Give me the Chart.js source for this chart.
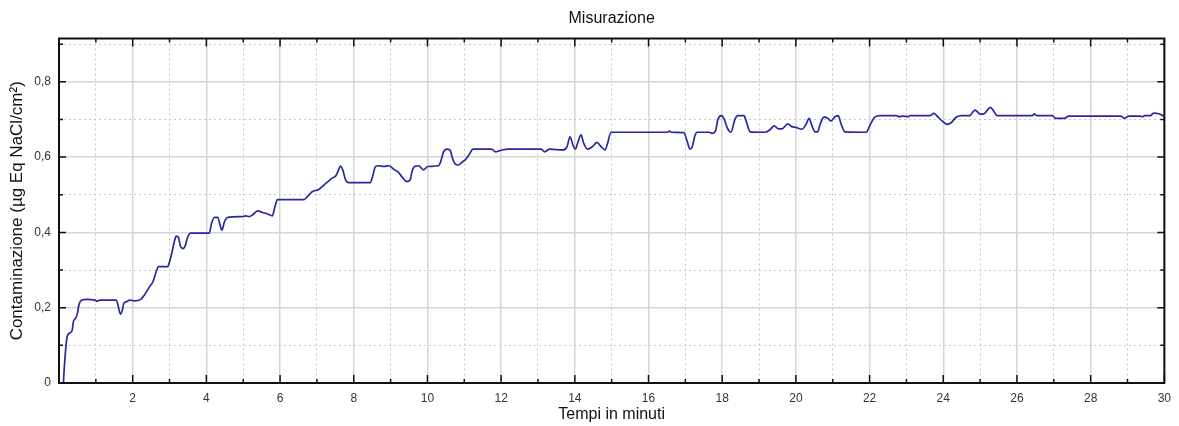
<!DOCTYPE html>
<html>
<head>
<meta charset="utf-8">
<script src="https://cdn.jsdelivr.net/npm/chart.js@4.4.0/dist/chart.umd.min.js"></script>
<style>
  html, body { margin: 0; padding: 0; background: #fff; }
</style>
</head>
<body>
<canvas id="chart" width="1179" height="426"></canvas>
<script>
// time in minutes
const times = [
  0.12, 0.14, 0.18, 0.22, 0.30, 0.36, 0.39, 0.45, 0.50, 0.54, 0.61, 0.75, 0.97, 1.02, 1.11,
  1.56, 1.60, 1.67, 1.72, 1.76, 1.83, 1.92, 2.05, 2.22, 2.32, 2.46, 2.55, 2.64, 2.70, 2.95,
  3.00, 3.06, 3.12, 3.18, 3.24, 3.30, 3.37, 3.43, 3.49, 3.57, 4.08, 4.14, 4.22, 4.31, 4.37,
  4.42, 4.49, 4.58, 4.98, 5.07, 5.16, 5.25, 5.39, 5.52, 5.66, 5.79, 5.86, 5.93, 6.65, 6.74,
  6.87, 7.05, 7.24, 7.41, 7.51, 7.58, 7.64, 7.70, 7.78, 7.86, 8.45, 8.51, 8.59, 8.68, 8.81,
  8.95, 9.08, 9.22, 9.32, 9.44, 9.53, 9.58, 9.65, 9.76, 9.89, 10.01, 10.30, 10.36, 10.43, 10.52,
  10.61, 10.68, 10.75, 10.84, 10.93, 11.02, 11.11, 11.24, 11.74, 11.85, 11.96, 12.19, 13.09, 13.18, 13.32,
  13.68, 13.79, 13.87, 13.95, 14.01, 14.08, 14.17, 14.24, 14.35, 14.49, 14.60, 14.71, 14.82, 14.89, 14.98,
  16.51, 16.57, 16.62, 16.96, 17.04, 17.13, 17.19, 17.25, 17.32, 17.64, 17.73, 17.82, 17.88, 17.97, 18.05,
  18.14, 18.24, 18.34, 18.43, 18.59, 18.66, 18.76, 19.17, 19.29, 19.41, 19.53, 19.62, 19.78, 19.89, 20.00,
  20.16, 20.27, 20.36, 20.43, 20.52, 20.59, 20.66, 20.77, 20.86, 20.95, 21.06, 21.15, 21.22, 21.33, 21.92,
  21.98, 22.05, 22.14, 22.28, 22.73, 22.80, 22.90, 23.05, 23.10, 23.63, 23.75, 23.86, 23.97, 24.11, 24.22,
  24.35, 24.49, 24.71, 24.86, 25.01, 25.12, 25.28, 25.37, 25.46, 26.42, 26.47, 26.54, 26.96, 27.05, 27.28,
  27.41, 28.81, 28.92, 29.04, 29.35, 29.41, 29.46, 29.62, 29.71, 29.85, 29.96, 30.00
];
// contamination (µg Eq NaCl/cm²)
const values = [
  0.000, 0.035, 0.088, 0.123, 0.133, 0.141, 0.163, 0.172, 0.185, 0.207, 0.220, 0.222, 0.220, 0.217, 0.220,
  0.220, 0.207, 0.183, 0.194, 0.212, 0.216, 0.220, 0.218, 0.222, 0.234, 0.256, 0.269, 0.296, 0.309, 0.309,
  0.322, 0.344, 0.371, 0.390, 0.387, 0.362, 0.357, 0.366, 0.387, 0.398, 0.398, 0.424, 0.440, 0.440, 0.420,
  0.406, 0.428, 0.440, 0.442, 0.444, 0.442, 0.446, 0.457, 0.453, 0.449, 0.444, 0.468, 0.487, 0.487, 0.495,
  0.508, 0.514, 0.530, 0.544, 0.550, 0.564, 0.576, 0.566, 0.539, 0.532, 0.532, 0.548, 0.575, 0.577, 0.575,
  0.577, 0.568, 0.559, 0.546, 0.535, 0.539, 0.561, 0.575, 0.577, 0.566, 0.575, 0.577, 0.588, 0.612, 0.621,
  0.619, 0.597, 0.582, 0.579, 0.586, 0.592, 0.603, 0.621, 0.621, 0.614, 0.617, 0.621, 0.621, 0.614, 0.621,
  0.619, 0.628, 0.654, 0.632, 0.621, 0.638, 0.659, 0.637, 0.621, 0.629, 0.639, 0.628, 0.619, 0.637, 0.666,
  0.666, 0.669, 0.666, 0.665, 0.645, 0.621, 0.628, 0.654, 0.666, 0.666, 0.663, 0.670, 0.699, 0.710, 0.702,
  0.677, 0.666, 0.699, 0.710, 0.710, 0.693, 0.667, 0.666, 0.672, 0.683, 0.675, 0.675, 0.688, 0.681, 0.679,
  0.674, 0.686, 0.703, 0.685, 0.667, 0.667, 0.688, 0.707, 0.703, 0.696, 0.707, 0.710, 0.690, 0.667, 0.666,
  0.678, 0.692, 0.706, 0.710, 0.710, 0.707, 0.709, 0.707, 0.710, 0.710, 0.716, 0.706, 0.696, 0.687, 0.692,
  0.706, 0.710, 0.710, 0.725, 0.714, 0.716, 0.732, 0.722, 0.710, 0.710, 0.715, 0.710, 0.710, 0.703, 0.703,
  0.709, 0.709, 0.703, 0.709, 0.709, 0.707, 0.710, 0.710, 0.717, 0.715, 0.710, 0.707
];
const yTickLabels = { 0: '0', 2: '0,2', 4: '0,4', 6: '0,6', 8: '0,8' }; // keyed by tenths
const xTickLabels = [2, 4, 6, 8, 10, 12, 14, 16, 18, 20, 22, 24, 26, 28, 30];

const labelColor = '#333';
const fontFamily = '"Liberation Sans", Arial, sans-serif';

// black frame with short inward tick marks on all four sides
const frameTicks = {
  id: 'frameTicks',
  afterDatasetsDraw(chart) {
    const { ctx, chartArea: a, scales: { x, y } } = chart;
    ctx.save();
    ctx.strokeStyle = '#111';
    ctx.lineWidth = 1.5;
    ctx.beginPath();
    x.ticks.forEach(t => {
      const px = x.getPixelForValue(t.value);
      const len = Math.round(t.value) % 2 ? 4 : 8;
      ctx.moveTo(px, a.bottom); ctx.lineTo(px, a.bottom - len);
      ctx.moveTo(px, a.top); ctx.lineTo(px, a.top + len);
    });
    y.ticks.forEach(t => {
      const py = y.getPixelForValue(t.value);
      const len = Math.round(t.value * 10) % 2 ? 4 : 7;
      ctx.moveTo(a.left, py); ctx.lineTo(a.left + len, py);
      ctx.moveTo(a.right, py); ctx.lineTo(a.right - len, py);
    });
    ctx.stroke();
    ctx.lineWidth = 2;
    ctx.strokeRect(a.left, a.top, a.right - a.left, a.bottom - a.top);
    ctx.restore();
  }
};

const isOdd = (c, f) => c.tick && Math.round(c.tick.value * f) % 2 === 1;

const ctx = document.getElementById('chart').getContext('2d');
new Chart(ctx, {
  type: 'line',
  data: {
    datasets: [{
      data: times.map((t, i) => ({ x: t, y: values[i] })),
      borderColor: '#2828a0',
      borderWidth: 1.7,
      pointRadius: 0,
      cubicInterpolationMode: 'monotone',
      fill: false
    }]
  },
  options: {
    responsive: false,
    animation: false,
    devicePixelRatio: 1,
    layout: { padding: { left: 0, right: 10, top: 0, bottom: 0 } },
    plugins: {
      legend: { display: false },
      tooltip: { enabled: false }
    },
    scales: {
      x: {
        type: 'linear',
        min: 0,
        max: 30,
        afterFit: s => { s.height = 43; },
        ticks: {
          stepSize: 1,
          autoSkip: false,
          maxRotation: 0,
          padding: 8,
          color: labelColor,
          font: { family: fontFamily, size: 12 },
          callback: v => xTickLabels.includes(v) ? String(v) : ''
        },
        grid: {
          drawTicks: false,
          color: c => isOdd(c, 1) ? '#c8c8c8' : '#d6d6d6',
          lineWidth: c => isOdd(c, 1) ? 1 : 1.5
        },
        border: {
          display: false,
          dash: c => isOdd(c, 1) ? [2, 3] : []
        },
        title: {
          display: true,
          text: 'Tempi in minuti',
          color: '#111',
          font: { family: fontFamily, size: 16, lineHeight: 1.2 },
          padding: { top: 0, bottom: 1.5 }
        }
      },
      // top axis only carries the chart title, centred over the plot area
      top: {
        type: 'linear',
        position: 'top',
        min: 0,
        max: 30,
        afterFit: s => { s.height = 38.5; },
        ticks: { display: false },
        grid: { display: false, drawTicks: false },
        border: { display: false },
        title: {
          display: true,
          text: 'Misurazione',
          color: '#111',
          font: { family: fontFamily, size: 16, lineHeight: 1.2 },
          padding: { top: 8.5, bottom: 0 }
        }
      },
      y: {
        min: 0,
        max: 0.915,
        afterFit: s => { s.width = 59; },
        ticks: {
          stepSize: 0.1,
          includeBounds: false,
          padding: 8,
          color: labelColor,
          font: { family: fontFamily, size: 12 },
          callback: v => yTickLabels[Math.round(v * 10)] || ''
        },
        grid: {
          drawTicks: false,
          color: c => isOdd(c, 10) ? '#c8c8c8' : '#d6d6d6',
          lineWidth: c => isOdd(c, 10) ? 1 : 1.5
        },
        border: {
          display: false,
          dash: c => isOdd(c, 10) ? [2, 3] : []
        },
        title: {
          display: true,
          text: 'Contaminazione (µg Eq NaCl/cm²)',
          color: '#111',
          font: { family: fontFamily, size: 17, lineHeight: 1.2 },
          padding: { top: 7, bottom: 0 }
        }
      }
    }
  },
  plugins: [frameTicks]
});
</script>
</body>
</html>
